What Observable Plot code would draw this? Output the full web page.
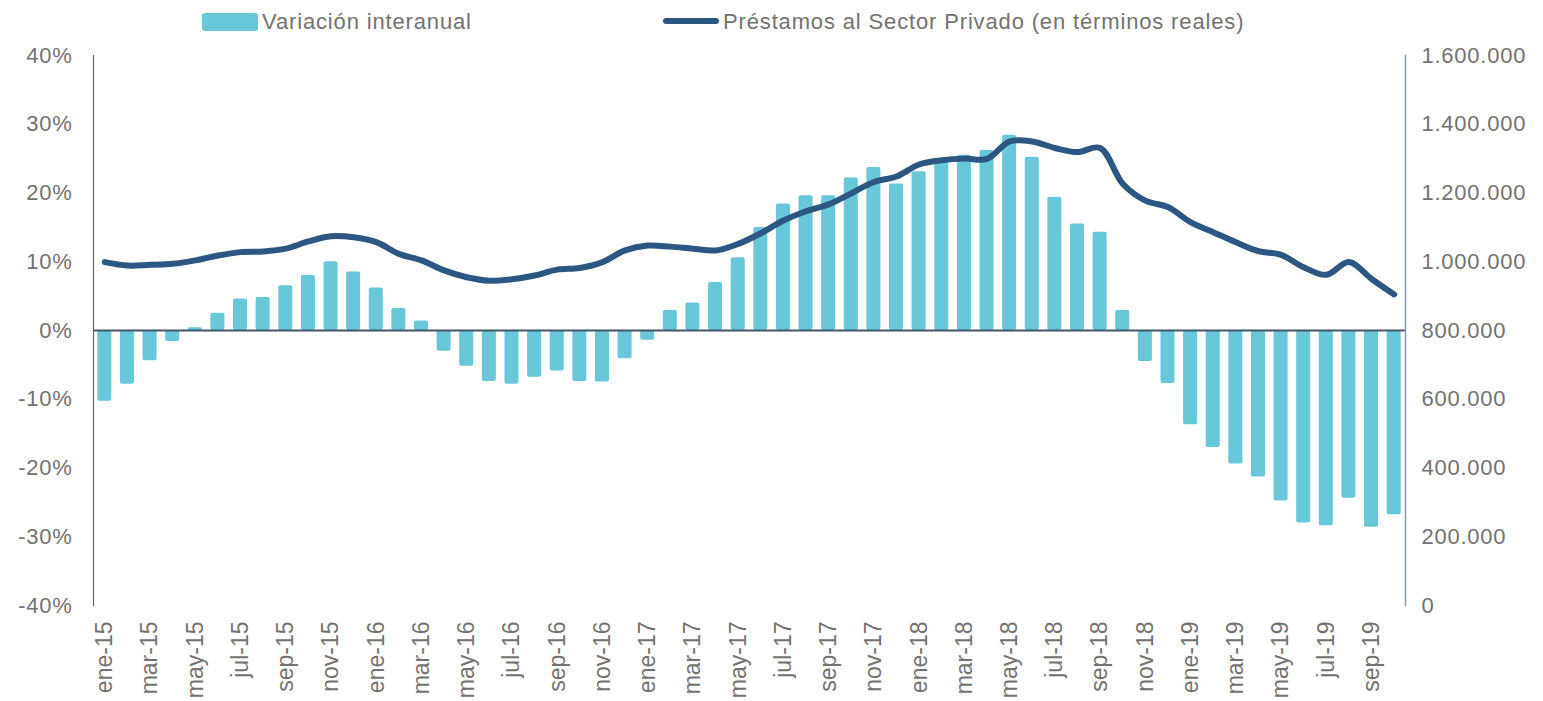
<!DOCTYPE html>
<html><head><meta charset="utf-8">
<script src="https://cdn.jsdelivr.net/npm/d3@7"></script>
<script src="https://cdn.jsdelivr.net/npm/@observablehq/plot@0.6"></script>
<style>
body{margin:0;background:#fff;font-family:"Liberation Sans",Arial,sans-serif;}
#legend{position:relative;height:40px;width:1543px;color:#767171;font-size:22px;line-height:22px;letter-spacing:0.85px;}
#legend div{position:absolute;white-space:nowrap;}
.ylab text{letter-spacing:0.75px;}
</style></head><body>
<div id="legend">
 <div style="left:202px;top:13px;width:56px;height:18px;background:#68C8D9;border-radius:3px"></div>
 <div style="left:262px;top:11px;">Variación interanual</div>
 <div style="left:663px;top:18px;width:56px;height:6px;background:#2B5782;border-radius:3px"></div>
 <div style="left:723px;top:11px;">Préstamos al Sector Privado (en términos reales)</div>
</div>
<div id="chart"></div>
<script>
const meses = ["ene-15","feb-15","mar-15","abr-15","may-15","jun-15","jul-15","ago-15","sep-15","oct-15","nov-15","dic-15",
"ene-16","feb-16","mar-16","abr-16","may-16","jun-16","jul-16","ago-16","sep-16","oct-16","nov-16","dic-16",
"ene-17","feb-17","mar-17","abr-17","may-17","jun-17","jul-17","ago-17","sep-17","oct-17","nov-17","dic-17",
"ene-18","feb-18","mar-18","abr-18","may-18","jun-18","jul-18","ago-18","sep-18","oct-18","nov-18","dic-18",
"ene-19","feb-19","mar-19","abr-19","may-19","jun-19","jul-19","ago-19","sep-19","oct-19"];
// Variación interanual (%)
const variacion = [-10.3,-7.8,-4.4,-1.6,0.4,2.5,4.6,4.8,6.5,8.0,10.0,8.5,
 6.2,3.2,1.4,-3.0,-5.2,-7.4,-7.8,-6.8,-5.9,-7.4,-7.5,-4.1,
 -1.4,2.9,4.0,7.0,10.6,15.0,18.4,19.6,19.6,22.2,23.7,21.3,
 23.1,24.5,25.5,26.2,28.4,25.2,19.4,15.5,14.3,2.9,-4.5,-7.7,
 -13.7,-17.0,-19.4,-21.3,-24.8,-28.0,-28.4,-24.4,-28.6,-26.8];
// Préstamos al Sector Privado (miles)
const prestamos = [999,989,991,994,1004,1018,1028,1030,1038,1059,1074,1071,
 1057,1023,1004,975,955,945,949,960,977,982,999,1033,
 1047,1044,1038,1033,1052,1083,1120,1147,1167,1199,1232,1248,
 1283,1295,1300,1299,1350,1350,1331,1319,1331,1227,1178,1159,
 1115,1086,1057,1031,1020,984,962,999,950,905];
const pctTicks = [-40,-30,-20,-10,0,10,20,30,40];
const rightTicks = [0,200000,400000,600000,800000,1000000,1200000,1400000,1600000];

const fmt = d3.formatLocale({decimal:",", thousands:".", grouping:[3], currency:["",""]}).format(",.0f");
const data = meses.map((m,i)=>({m, v: variacion[i], p: prestamos[i]*1000}));
const toPct = v => v/20000 - 40;
const fromPct = p => (p + 40)*20000;
const txt = "#767171";

const chart = Plot.plot({
  width:1543, height:661, marginTop:15, marginBottom:96, marginLeft:93, marginRight:138,
  style:{fontFamily:"Liberation Sans, Arial, sans-serif", fontSize:"22px", color:txt, background:"#fff"},
  x:{type:"band", domain: meses, paddingInner:0.38, paddingOuter:0.19, label:null},
  y:{domain:[-40,40], label:null},
  marks:[
    Plot.barY(data,{x:"m", y:"v", fill:"#68C8D9", rx:2}),
    Plot.ruleY([0],{stroke:"#44546A", strokeWidth:2}),
    Plot.frame({anchor:"left", stroke:"#5b6577", strokeWidth:1.2}),
    Plot.frame({anchor:"right", stroke:"#8a97a8", strokeWidth:1.5}),
    Plot.line(data,{x:"m", y:d=>toPct(d.p), stroke:"#2B5782", strokeWidth:6, curve:"catmull-rom", strokeLinecap:"round", strokeLinejoin:"round"}),
    Plot.axisY({anchor:"left", ticks:pctTicks, tickSize:0, tickPadding:21, tickFormat:d=>d+"%", fontSize:22, label:null, className:"ylab"}),
    Plot.axisY({anchor:"right", ticks:rightTicks.map(toPct), tickSize:0, tickPadding:16, tickFormat:d=>fmt(fromPct(d)), fontSize:22, label:null, className:"ylab"}),
    Plot.axisX({ticks: meses.filter((d,i)=>i%2===0), tickRotate:-90, tickSize:0, tickPadding:16, fontSize:23, label:null})
  ]
});
document.getElementById("chart").appendChild(chart);
</script>
</body></html>
